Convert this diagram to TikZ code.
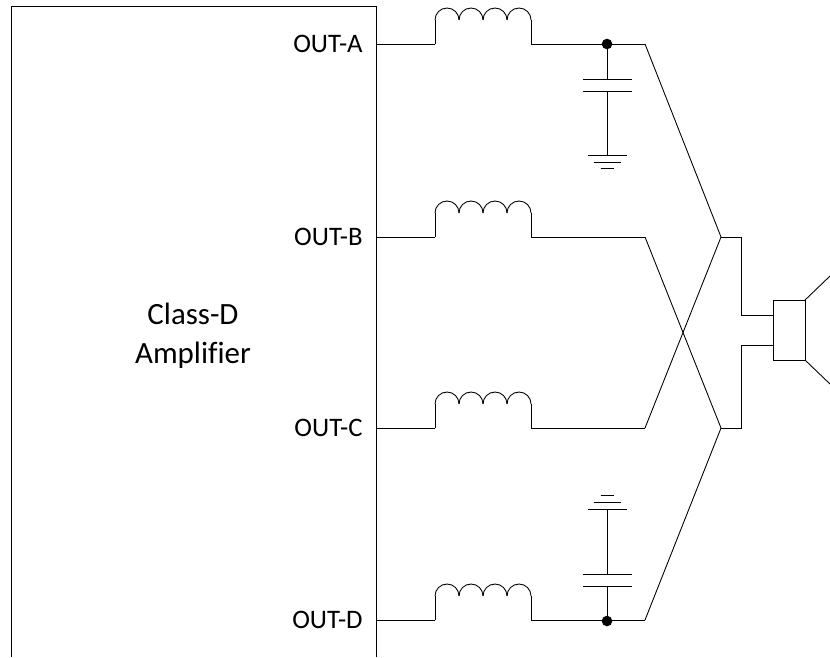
\documentclass[tikz,border=0pt]{standalone}
\usepackage{fontspec}
\setmainfont[Ligatures=NoCommon]{Carlito}
\tikzset{wire/.style={line width=0.5pt},
  label out/.style={anchor=east, inner sep=0pt, font=\fontsize{15.2}{18}\selectfont},
  coil/.pic={
    \draw[wire] (0,0) -- (0,-24);
    \foreach \k in {0,1,2,3} {
      \draw[wire] (\k*24,-24) arc [start angle=180,end angle=360,radius=12];
    }
    \draw[wire] (96,-24) -- (96,0);
  },
  ground/.pic={
    \draw[wire] (-19.5,0) -- (19.5,0);
    \draw[wire] (-13.5,7) -- (13.5,7);
    \draw[wire] (-6.5,13.5) -- (6.5,13.5);
  }
}
\begin{document}
\begin{tikzpicture}[x=0.02cm,y=-0.02cm]
  \useasboundingbox (0,0) rectangle (830,657);
  % amplifier
  \coordinate (amp bl) at (11,657);
  \coordinate (amp tl) at (11,6);
  \coordinate (amp tr) at (376,6);
  \coordinate (amp br) at (376,657);
  \draw[wire] (amp bl) -- (amp tl) -- (amp tr) -- (amp br);
  \node[align=center, font=\fontsize{17.6}{22}\selectfont] (amp) at (193,336) {Class-D\\Amplifier};
  \foreach \name/\y/\lab in {a/44/OUT-A,b/237/OUT-B,c/428/OUT-C,d/620/OUT-D} {
    \coordinate (out \name) at (376,\y);
    \node[label out] (lab \name) at (363,\y) {\lab};
    \coordinate (coil \name) at (435,\y);
    \coordinate (coil end \name) at (531,\y);
    \coordinate (bend \name) at (645,\y);
    \draw[wire] (out \name) -- (coil \name) (coil end \name) -- (bend \name);
    \pic at (coil \name) {coil};
  }
  % crossing
  \coordinate (join top) at (721,237);
  \coordinate (join bot) at (721,428);
  \coordinate (knee top) at (741,237);
  \coordinate (knee bot) at (741,428);
  \coordinate (in top) at (741,315);
  \coordinate (in bot) at (741,345);
  \draw[wire] (bend a) -- (join top) (bend c) -- (join top);
  \draw[wire] (bend b) -- (join bot) (bend d) -- (join bot);
  % speaker
  \node[draw, line width=0.5pt, minimum width=32*0.02cm, minimum height=60*0.02cm, inner sep=0pt, outer sep=0pt] (spk) at (789,330) {};
  \coordinate (cone top) at (830,276);
  \coordinate (cone bot) at (830,384);
  \draw[wire] (join top) -- (knee top) -- (in top) -- (in top -| spk.west);
  \draw[wire] (join bot) -- (knee bot) -- (in bot) -- (in bot -| spk.west);
  \draw[wire] (spk.north east) -- (cone top) (spk.south east) -- (cone bot);
  % filter caps
  \coordinate (dot top) at (607,44);
  \coordinate (dot bot) at (607,621);
  \fill (dot top) circle[radius=5.3];
  \fill (dot bot) circle[radius=5.3];
  \coordinate (cap top a) at (607,79);
  \coordinate (cap top b) at (607,91);
  \coordinate (gnd top) at (607,155);
  \coordinate (cap bot a) at (607,586);
  \coordinate (cap bot b) at (607,574);
  \coordinate (gnd bot) at (607,509);
  \draw[wire] (dot top) -- (cap top a) (cap top b) -- (gnd top);
  \draw[wire] (dot bot) -- (cap bot a) (cap bot b) -- (gnd bot);
  \foreach \plate in {cap top a,cap top b,cap bot a,cap bot b} {
    \draw[wire] ([xshift=-0.48cm]\plate) -- ([xshift=0.49cm]\plate);
  }
  \pic at (gnd top) {ground};
  \pic[yscale=-1] at (gnd bot) {ground};
\end{tikzpicture}
\end{document}
